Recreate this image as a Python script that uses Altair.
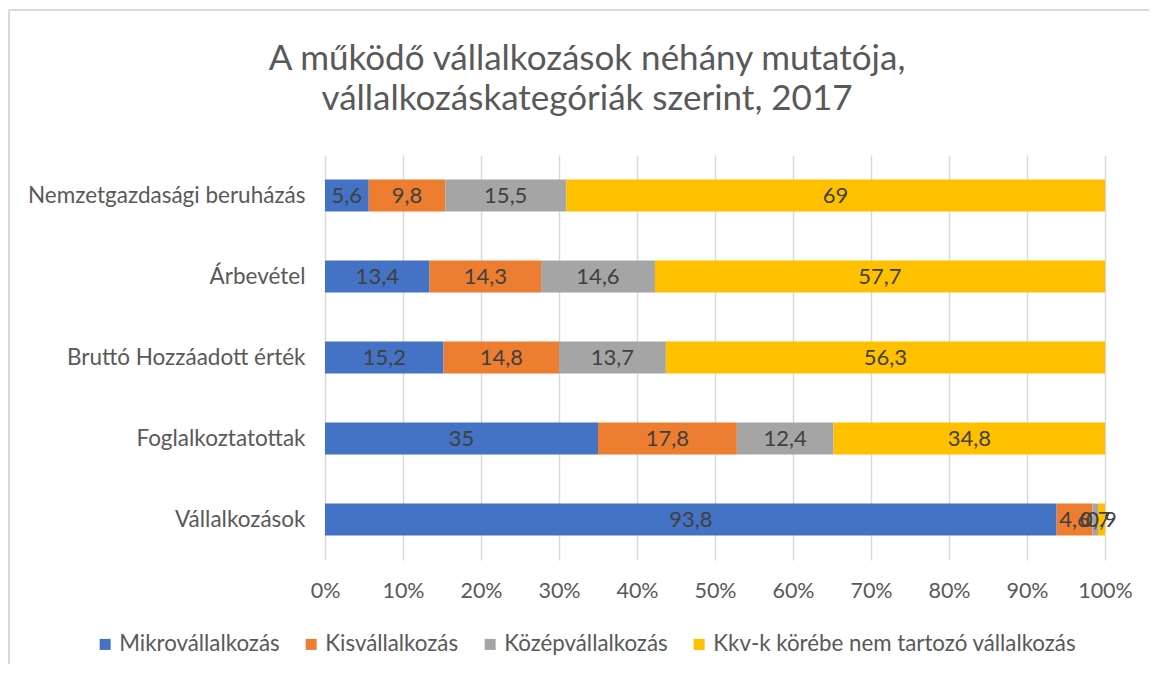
import altair as alt
import pandas as pd

categories = ["Nemzetgazdasági beruházás", "Árbevétel", "Bruttó Hozzáadott érték",
              "Foglalkoztatottak", "Vállalkozások"]
series = ["Mikrovállalkozás", "Kisvállalkozás", "Középvállalkozás",
          "Kkv-k körébe nem tartozó vállalkozás"]
mikro = [5.6, 13.4, 15.2, 35, 93.8]
kis = [9.8, 14.3, 14.8, 17.8, 4.6]
kozep = [15.5, 14.6, 13.7, 12.4, 0.7]
kkv = [69, 57.7, 56.3, 34.8, 0.9]
colors = ["#4472C4", "#ED7D31", "#A5A5A5", "#FFC000"]
ticks = [0, 0.1, 0.2, 0.3, 0.4, 0.5, 0.6, 0.7, 0.8, 0.9, 1.0]

FONT = "Lato"
GREY = "#595959"

rows = []
for si, (s, vals) in enumerate(zip(series, [mikro, kis, kozep, kkv])):
    for c, v in zip(categories, vals):
        rows.append({"cat": c, "series": s, "order": si, "value": v,
                     "label": f"{v:g}".replace(".", ",")})
df = pd.DataFrame(rows)

base = alt.Chart(df).transform_stack(
    stack="value", groupby=["cat"], sort=[alt.SortField("order", order="ascending")],
    as_=["x0", "x1"], offset="normalize"
).transform_calculate(mid="(datum.x0 + datum.x1) / 2")

yenc = alt.Y("cat:N", sort=categories, title=None,
             scale=alt.Scale(paddingInner=0, paddingOuter=0),
             axis=alt.Axis(domain=False, ticks=False, grid=False, labelFont=FONT,
                           labelFontSize=22.5, labelColor=GREY, labelPadding=20,
                           labelLimit=400))

bars = base.mark_bar(size=32).encode(
    y=yenc,
    x=alt.X("x0:Q", title=None, scale=alt.Scale(domain=[0, 1], nice=False),
            axis=alt.Axis(format="%", values=ticks, grid=True, gridColor="#D9D9D9",
                          gridWidth=1.5, domain=False, ticks=False, labelFont=FONT,
                          labelFontSize=21.5, labelColor=GREY, labelPadding=20,
                          labelFlush=False)),
    x2="x1:Q",
    color=alt.Color("series:N", scale=alt.Scale(domain=series, range=colors),
                    legend=alt.Legend(title=None, orient="none", legendX=-231, legendY=478,
                                      direction="horizontal", symbolType="square",
                                      symbolSize=121, symbolStrokeWidth=0,
                                      labelFont=FONT, labelFontSize=22.3, labelColor=GREY,
                                      columnPadding=20, labelOffset=3, labelLimit=500)),
    order=alt.Order("order:Q")
)

text = base.mark_text(font=FONT, fontSize=22, color="#404040").encode(
    y=alt.Y("cat:N", sort=categories),
    x=alt.X("mid:Q"),
    text="label:N"
)

border = alt.Chart(pd.DataFrame({"k": [0]})).mark_rule(color="#D9D9D9", strokeWidth=2).encode(
    x=alt.value(-316), x2=alt.value(900), y=alt.value(-145)
) + alt.Chart(pd.DataFrame({"k": [0]})).mark_rule(color="#D9D9D9", strokeWidth=2).encode(
    x=alt.value(-316), y=alt.value(-145), y2=alt.value(600)
)

chart = alt.layer(border, bars, text).properties(
    width=780, height=405,
    padding={"left": 317, "top": 147, "right": 44, "bottom": 104},
    autosize=alt.AutoSizeParams(type="none"),
    title=alt.TitleParams(
        text=["A működő vállalkozások néhány mutatója,",
              "vállalkozáskategóriák szerint, 2017"],
        font=FONT, fontSize=35, fontWeight="normal", color=GREY,
        anchor="middle", dx=-128, offset=-108, lineHeight=40)
).configure_view(stroke=None)

chart.save("out.html", embed_options={"renderer": "svg", "actions": False})
